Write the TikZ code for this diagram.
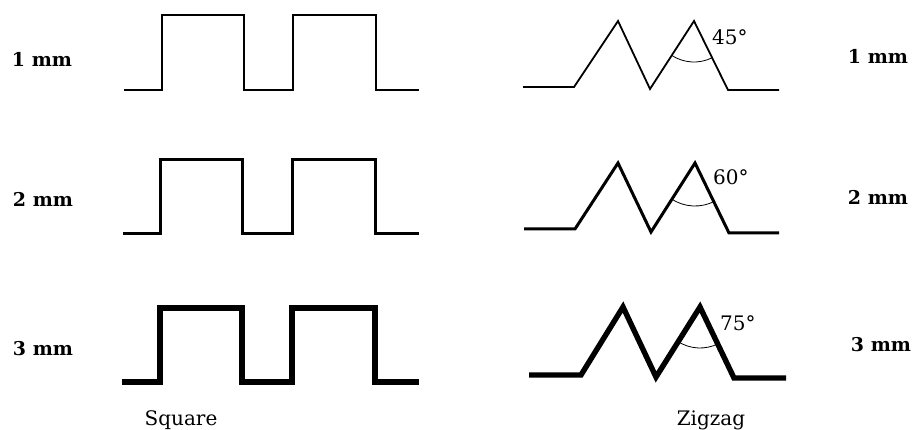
\documentclass[tikz,border=0pt]{standalone}
\usepackage{fontspec}
\setmainfont{DejaVu Serif}
\begin{document}
\begin{tikzpicture}[x=1pt,y=-1pt,
  lbl/.style={font=\fontsize{19}{22}\selectfont\bfseries, anchor=base, inner sep=0pt},
  captxt/.style={font=\fontsize{20}{24}\selectfont, anchor=base, inner sep=0pt},
  ang/.style={font=\fontsize{20}{24}\selectfont, anchor=base west, inner sep=0pt},
  wave/.style={line join=miter, line cap=butt},
  thin1/.style={wave, line width=1.8pt},
  mid2/.style={wave, line width=3pt},
  thick3/.style={wave, line width=5.4pt},
  arcline/.style={line width=0.8pt}]
\useasboundingbox (0,0) rectangle (912,430);

% ---------- Square waves ----------
\draw[thin1] (124,90) -- (162,90) -- (162,15) -- (244,15) -- (244,90) -- (293,90) -- (293,15) -- (376,15) -- (376,90) -- (419,90);
\draw[mid2] (123,234) -- (160,234) -- (160,160) -- (242,160) -- (242,234) -- (292,234) -- (292,160) -- (375,160) -- (375,234) -- (419,234);
\draw[thick3] (122,382) -- (160,382) -- (160,308) -- (242,308) -- (242,382) -- (292,382) -- (292,308) -- (375,308) -- (375,382) -- (419,382);

% ---------- Zigzag waves ----------
\coordinate (p1) at (694,21);
\draw[thin1] (523,87) -- (574,87) -- (618,21) -- (650,89) -- (p1) -- (728,90) -- (779,90);
\draw[arcline] (p1) ++(123:41) arc[start angle=123, end angle=64, radius=41];
\coordinate (p2) at (695,163);
\draw[mid2] (524,229) -- (575,229) -- (618,163) -- (651,232) -- (p2) -- (729,233) -- (779,233);
\draw[arcline] (p2) ++(123:43) arc[start angle=123, end angle=63, radius=43];
\coordinate (p3) at (700,307);
\draw[thick3] (529,375) -- (581,375) -- (623,307) -- (656,377) -- (p3) -- (734,378) -- (786,378);
\draw[arcline] (p3) ++(123:41) arc[start angle=123, end angle=63, radius=41];

% ---------- Angle labels ----------
\node[ang] (a1) at (712,45) {45°};
\node[ang] (a2) at (713,185) {60°};
\node[ang] (a3) at (720,330) {75°};

% ---------- Thickness labels ----------
\node[lbl] (l1) at (42,67) {1 mm};
\node[lbl] (l2) at (43,207) {2 mm};
\node[lbl] (l3) at (43,355) {3 mm};
\node[lbl] (r1) at (878,64) {1 mm};
\node[lbl] (r2) at (878,205) {2 mm};
\node[lbl] (r3) at (881,351) {3 mm};

% ---------- Captions ----------
\node[captxt] (sq) at (181,425) {Square};
\node[captxt] (zz) at (711,425) {Zigzag};
\end{tikzpicture}
\end{document}
